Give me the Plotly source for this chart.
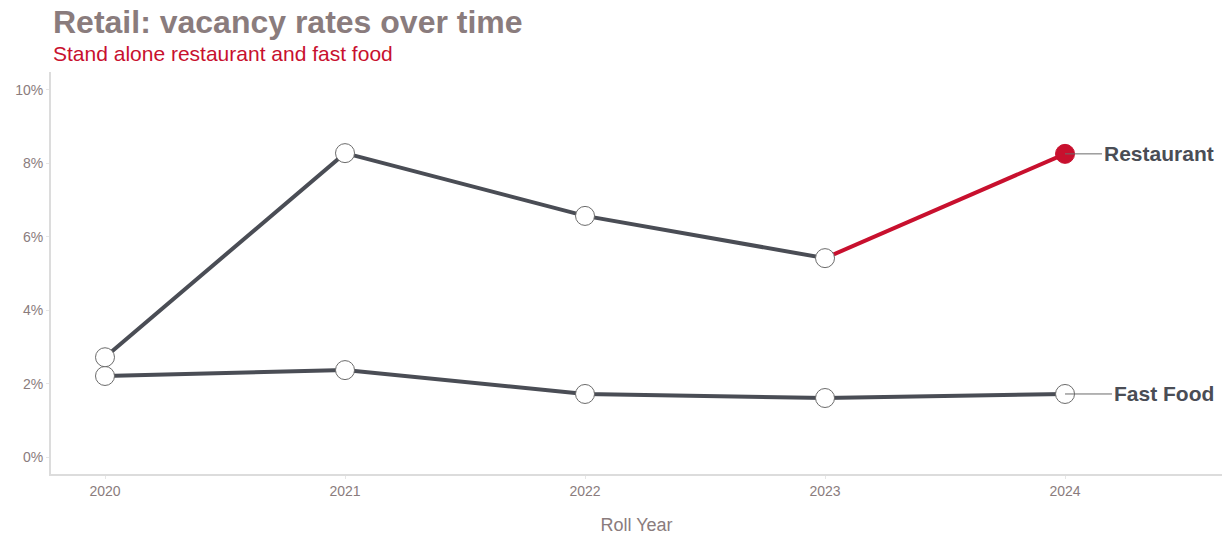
import plotly.graph_objects as go

years = [2020, 2021, 2022, 2023, 2024]
restaurant = [2.72, 8.28, 6.57, 5.42, 8.26]
fast_food = [2.21, 2.37, 1.72, 1.61, 1.72]
y_ticks = [0, 2, 4, 6, 8, 10]
y_tick_labels = ["0%", "2%", "4%", "6%", "8%", "10%"]

GREY = "#4a4d55"
RED = "#c8102e"
TXT = "#8a7c7d"
FONT = "Liberation Sans, Arial, sans-serif"

fig = go.Figure()

fig.add_trace(go.Scatter(
    x=years, y=fast_food, mode="lines+markers",
    line=dict(color=GREY, width=4),
    marker=dict(size=19, color="white", line=dict(color="#6b6b6b", width=1)),
    hoverinfo="skip", name="Fast Food"))

fig.add_trace(go.Scatter(
    x=years[:4], y=restaurant[:4], mode="lines",
    line=dict(color=GREY, width=4), hoverinfo="skip"))
fig.add_trace(go.Scatter(
    x=years[3:], y=restaurant[3:], mode="lines",
    line=dict(color=RED, width=4), hoverinfo="skip"))
fig.add_trace(go.Scatter(
    x=years[:4], y=restaurant[:4], mode="markers",
    marker=dict(size=19, color="white", line=dict(color="#6b6b6b", width=1)),
    hoverinfo="skip"))
fig.add_trace(go.Scatter(
    x=years[4:], y=restaurant[4:], mode="markers",
    marker=dict(size=19, color=RED, line=dict(color=RED, width=1)),
    hoverinfo="skip"))

for name, val, off in [("Restaurant", restaurant[-1], 37), ("Fast Food", fast_food[-1], 47)]:
    fig.add_annotation(
        x=years[-1], y=val, text="<b>%s</b>" % name,
        showarrow=True, arrowhead=0, arrowwidth=1, arrowcolor="#6b6b6b",
        ax=off, ay=0, xanchor="left", yanchor="middle", standoff=0,
        font=dict(size=21, color=GREY, family=FONT))

fig.add_annotation(
    xref="paper", yref="paper", x=0, y=1, xanchor="left", yanchor="bottom",
    yshift=30, showarrow=False, text="<b>Retail: vacancy rates over time</b>",
    font=dict(size=32, color=TXT, family=FONT))
fig.add_annotation(
    xref="paper", yref="paper", x=0, y=1, xanchor="left", yanchor="bottom",
    yshift=5, showarrow=False, text="Stand alone restaurant and fast food",
    font=dict(size=21, color=RED, family=FONT))

fig.update_layout(
    width=1225, height=537,
    paper_bgcolor="white", plot_bgcolor="white",
    showlegend=False,
    margin=dict(l=51, r=3, t=72, b=63),
    font=dict(family=FONT, color=TXT),
    xaxis=dict(
        range=[2019.775, 2024.654], tickvals=years, ticktext=[str(y) for y in years],
        showgrid=False, zeroline=False, showline=True, linecolor="#dcdcdc", linewidth=2,
        ticks="outside", ticklen=3, tickcolor="#e6e6e6",
        tickfont=dict(size=14, color=TXT),
        title=dict(text="Roll Year", font=dict(size=18, color=TXT), standoff=21)),
    yaxis=dict(
        range=[-0.46, 10.49], tickvals=y_ticks, ticktext=y_tick_labels,
        showgrid=False, zeroline=False, showline=True, linecolor="#dcdcdc", linewidth=2,
        ticks="outside", ticklen=3, tickcolor="#e6e6e6",
        tickfont=dict(size=14, color=TXT)),
)

fig.write_html("out.html", config={"displayModeBar": False},
               post_script="document.body.style.margin='0';")
